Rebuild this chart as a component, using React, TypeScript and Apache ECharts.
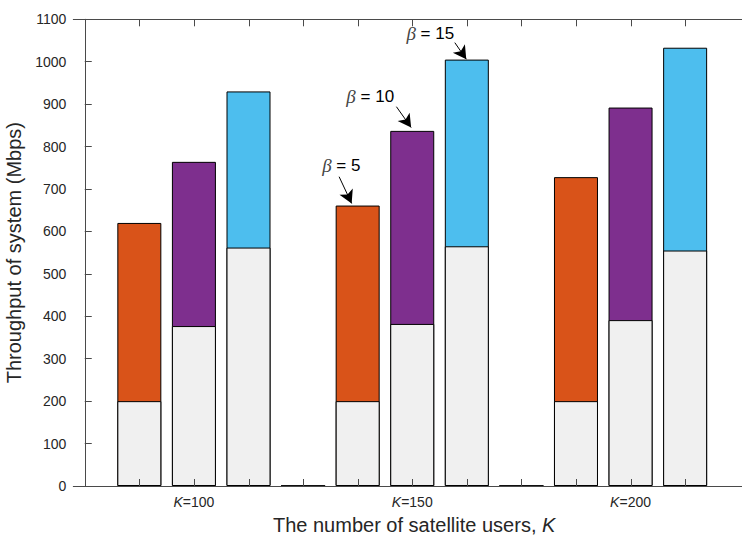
import React, { useEffect, useRef } from 'react';
import * as echarts from 'echarts';

// ---- data ----
const groupK = ['100', '150', '200'];
const betaValues = [5, 10, 15];
const baseThroughput = [
  [200, 377, 562],
  [200, 382, 565],
  [200, 391, 555],
];
const totalThroughput = [
  [620, 764, 930],
  [661, 837, 1005],
  [728, 892, 1033],
];
const spacerThroughput = [0, 0];
const yMax = 1100;
const yStep = 100;

// ---- styling ----
const segmentColors = ['#D95319', '#7E2F8E', '#4DBEEE'];
const baseColor = '#F0F0F0';
const axisColor = '#4a4a4a';
const textColor = '#262626';
const tickLen = 7;

// annotation placement (data coordinates)
const annotations = [
  { beta: 5, text: [4.7, 755], tail: [4.66, 729], tip: [4.89, 666] },
  { beta: 10, text: [5.23, 917], tail: [5.71, 894], tip: [5.98, 845] },
  { beta: 15, text: [6.33, 1067], tail: [6.78, 1045], tip: [6.99, 1006] },
];

const barsPerGroup = betaValues.length + 1;
const xPos = (g: number, b: number) => g * barsPerGroup + b + 1;

const xMin = -0.21;
const xMax = 12.28;

export default function App() {
  const ref = useRef<HTMLDivElement>(null);

  useEffect(() => {
    if (!ref.current) return;
    const chart = echarts.init(ref.current, undefined, { renderer: 'svg' });

    const baseData: any[] = [];
    const totalData: any[] = [];
    groupK.forEach((_, g) => {
      betaValues.forEach((_, b) => {
        const x = xPos(g, b);
        baseData.push([x, baseThroughput[g][b]]);
        totalData.push({
          value: [x, totalThroughput[g][b]],
          itemStyle: { color: segmentColors[b] },
        });
      });
      if (g < spacerThroughput.length) {
        const x = xPos(g, betaValues.length);
        baseData.push([x, spacerThroughput[g]]);
        totalData.push({ value: [x, spacerThroughput[g]], itemStyle: { color: baseColor } });
      }
    });

    const tickValues: number[] = [];
    for (let i = 1; i <= groupK.length * barsPerGroup - 1; i++) tickValues.push(i);
    const labelTicks = groupK.map((_, g) => xPos(g, 1));
    const labelMap: Record<number, string> = {};
    labelTicks.forEach((t, g) => (labelMap[t] = groupK[g]));

    const xCommon = {
      type: 'value',
      min: xMin,
      max: xMax,
      z: 10,
      splitLine: { show: false },
      axisLine: { show: true, lineStyle: { color: axisColor, width: 1 } },
      axisTick: { show: false },
    };

    chart.setOption({
      animation: false,
      backgroundColor: '#ffffff',
      grid: {
        left: 73.3,
        right: -13,
        top: 19.3,
        bottom: 50,
        containLabel: false,
        outerBoundsMode: 'none',
      },
      xAxis: [
        {
          ...xCommon,
          position: 'bottom',
          name: '{n|The number of satellite users, }{i|K}',
          nameLocation: 'middle',
          nameGap: 29,
          nameTextStyle: {
            rich: {
              n: { fontSize: 20, fontFamily: 'Liberation Sans', color: textColor },
              i: { fontSize: 20, fontFamily: 'Liberation Sans', fontStyle: 'italic', color: textColor },
            },
          },
          axisLabel: {
            show: true,
            customValues: labelTicks,
            margin: 9,
            formatter: (v: number) => `{i|K}{n|=${labelMap[Math.round(v)] ?? ''}}`,
            rich: {
              i: { fontSize: 14, fontFamily: 'Liberation Sans', fontStyle: 'italic', color: textColor },
              n: { fontSize: 14, fontFamily: 'Liberation Sans', color: textColor },
            },
          },
        },
        {
          ...xCommon,
          position: 'top',
          axisLabel: { show: false },
        },
      ],
      yAxis: {
        type: 'value',
        min: 0,
        max: yMax,
        interval: yStep,
        z: 10,
        name: 'Throughput of system (Mbps)',
        nameLocation: 'middle',
        nameGap: 46,
        nameTextStyle: { fontSize: 20, fontFamily: 'Liberation Sans', color: textColor },
        splitLine: { show: false },
        axisLine: { show: true, lineStyle: { color: axisColor, width: 1 } },
        axisTick: { show: true, inside: true, length: tickLen, lineStyle: { color: axisColor, width: 1 } },
        axisLabel: {
          fontSize: 14,
          fontFamily: 'Liberation Sans',
          color: textColor,
          margin: 7,
          formatter: (v: number) => String(v),
        },
      },
      series: [
        {
          type: 'bar',
          z: 1,
          barWidth: 44,
          data: totalData,
          silent: true,
          itemStyle: { borderColor: '#000', borderWidth: 1 },
          markLine: {
            silent: true,
            symbol: ['none', 'arrow'],
            symbolSize: [11, 13],
            label: { show: false },
            lineStyle: { color: '#000', width: 1, type: 'solid' },
            emphasis: { disabled: true },
            data: annotations.map((a) => [{ coord: a.tail }, { coord: a.tip }]),
          },
          markPoint: {
            silent: true,
            symbol: 'rect',
            symbolSize: 1,
            itemStyle: { color: 'rgba(0,0,0,0)' },
            label: {
              show: true,
              position: 'inside',
              formatter: (p: any) => `{b|β}{t| = ${p.value}}`,
              rich: {
                b: { fontSize: 19, fontFamily: 'Liberation Serif', fontStyle: 'italic', color: '#444' },
                t: { fontSize: 17, fontFamily: 'Liberation Sans', color: '#000' },
              },
            },
            data: annotations.map((a) => ({ coord: a.text, value: a.beta })),
          },
        },
        {
          type: 'bar',
          z: 1,
          barWidth: 44,
          barGap: '-100%',
          data: baseData,
          silent: true,
          itemStyle: { color: baseColor, borderColor: '#000', borderWidth: 1 },
        },
      ],
    });

    // x-axis tick marks (inside, top and bottom), placed through the axis scales
    const yBottom = chart.convertToPixel({ yAxisIndex: 0 }, 0) as number;
    const yTop = chart.convertToPixel({ yAxisIndex: 0 }, yMax) as number;
    const tickLines: any[] = [];
    tickValues.forEach((v) => {
      const px = Math.round(chart.convertToPixel({ xAxisIndex: 0 }, v) as number) + 0.5;
      tickLines.push({
        type: 'line',
        silent: true,
        z: 100,
        shape: { x1: px, y1: yBottom, x2: px, y2: yBottom - tickLen },
        style: { stroke: axisColor, lineWidth: 1 },
      });
      tickLines.push({
        type: 'line',
        silent: true,
        z: 100,
        shape: { x1: px, y1: yTop, x2: px, y2: yTop + tickLen },
        style: { stroke: axisColor, lineWidth: 1 },
      });
    });
    chart.setOption({ graphic: tickLines });

    return () => chart.dispose();
  }, []);

  return (
    <div
      ref={ref}
      style={{ position: 'fixed', left: 0, top: 0, width: 742, height: 536 }}
    />
  );
}
